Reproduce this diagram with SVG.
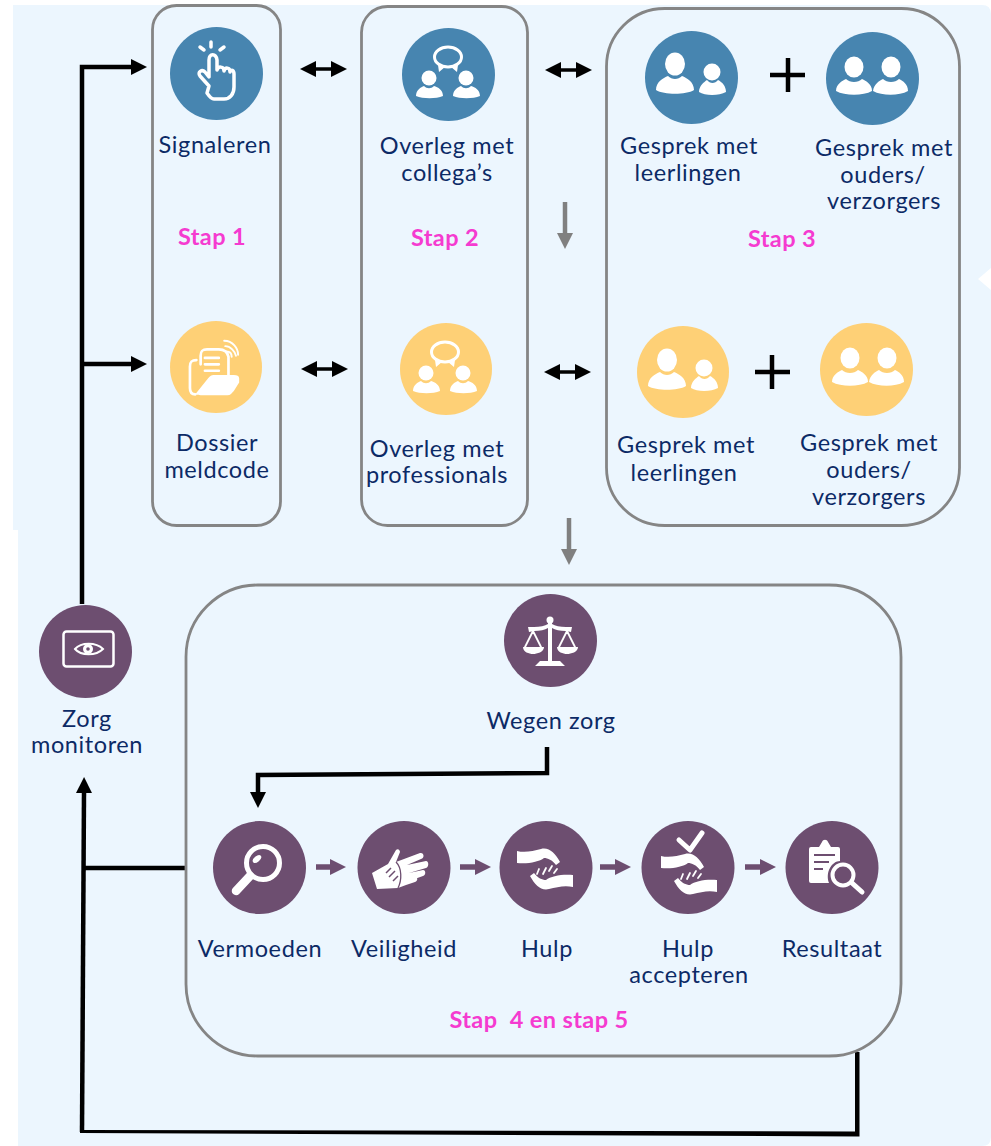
<svg xmlns="http://www.w3.org/2000/svg" width="991" height="1146" viewBox="0 0 991 1146">
<style>
text{font-family:"Lato","Liberation Sans",sans-serif;font-size:23.5px;letter-spacing:.6px;fill:#0c2a66;text-anchor:middle;white-space:pre}
.stap{font-weight:700;font-size:23.5px;letter-spacing:.4px;fill:#f53bd0}
.box{fill:none;stroke:#858585;stroke-width:2.8}
.blue{fill:#4785b0}.yel{fill:#fed076}.pur{fill:#6d4e70}
.w{fill:#fff}.ws{fill:none;stroke:#fff;stroke-linecap:round;stroke-linejoin:round}
.k{fill:none;stroke:#000;stroke-width:4.5}
.k2{fill:none;stroke:#000;stroke-width:3.500}
.g{fill:none;stroke:#808080;stroke-width:4.500}
.p{fill:none;stroke:#6d4e70;stroke-width:5.500}
</style>
<defs>
<marker id="ak" markerUnits="userSpaceOnUse" markerWidth="16" markerHeight="16" refX="1" refY="8" orient="auto-start-reverse"><path d="M0 0L16 8L0 16Z"/></marker>
<marker id="ag" markerUnits="userSpaceOnUse" markerWidth="16" markerHeight="16" refX="1" refY="8" orient="auto"><path d="M0 0L16 8L0 16Z" fill="#808080"/></marker>
<marker id="ap" markerUnits="userSpaceOnUse" markerWidth="16" markerHeight="16" refX="1" refY="8" orient="auto"><path d="M0 0L16 8L0 16Z" fill="#6d4e70"/></marker>
<g id="persons2"><ellipse cx="-17" cy="-11" rx="9.500" ry="10.500" class="w"/><path d="M-35 13C-35 6-29 3-25 1C-21 5-13 5-9 1C-5 3 1 6 1 13C-8 18-26 18-35 13Z" class="w"/><ellipse cx="20" cy="-11" rx="9.500" ry="10.500" class="w"/><path d="M2 13C3 6 8 3 12 1C16 5 24 5 28 1C32 3 37 6 37 13C28 18 11 18 2 13Z" class="w"/></g>
<g id="persons1"><ellipse cx="-19" cy="-10" rx="10" ry="11.500" class="w"/><path d="M-38 16C-38 8-31 4-26 2C-22 6-16 6-12 2C-7 4 0 8 0 16C-8 21-30 21-38 16Z" class="w"/><circle cx="18" cy="-2" r="8.500" class="w"/><path d="M5 18C5 12 10 8 13 6C16 10 21 10 24 6C28 8 32 12 32 18C25 22 11 22 5 18Z" class="w"/></g>
<g id="talk"><ellipse cx="0" cy="-16" rx="13.500" ry="10" class="ws" stroke-width="3"/><path d="M-10-8L-9-1L-3-6ZM10-8L9-1L3-6Z" class="w"/><circle cx="-19" cy="5" r="7.500" class="w"/><path d="M-32 23C-32 17-27 14-24 13C-21 16-17 16-14 13C-10 14-5 17-5 23C-12 26-25 26-32 23Z" class="w"/><circle cx="18" cy="5" r="7.500" class="w"/><path d="M5 23C5 17 10 14 13 13C16 16 20 16 23 13C27 14 32 17 32 23C25 26 12 26 5 23Z" class="w"/></g>
<g id="hand"><path d="M-28-18C-20-16-12-18-4-20C4-22 10-16 15-7L11-4C7-9 3-11-1-11C-6-7-17-5-28-6Z" class="w"/></g>
<g id="hands"><use href="#hand"/><use href="#hand" transform="rotate(180)"/><path d="M7-3L4 2M1-1L-2 5M-6 0L-8 5M12 0L9 4" class="ws" stroke-width="1.800" stroke-linecap="butt"/></g>
</defs>
<path id="background" d="M13 5H982Q991 5 991 14V268L978 279L991 290V1137Q991 1146 982 1146H18V530H13Z" fill="#ecf6fe"/>
<g id="connectors">
<path class="k" d="M82 604V67H132" marker-end="url(#ak)"/>
<path class="k" d="M82 364H132" marker-end="url(#ak)"/>
<path class="k2" d="M315 69H332" marker-start="url(#ak)" marker-end="url(#ak)"/>
<path class="k2" d="M560 70H577" marker-start="url(#ak)" marker-end="url(#ak)"/>
<path class="k2" d="M316 369H333" marker-start="url(#ak)" marker-end="url(#ak)"/>
<path class="k2" d="M559 372H576" marker-start="url(#ak)" marker-end="url(#ak)"/>
<path class="g" d="M565 202V234" marker-end="url(#ag)"/>
<path class="g" d="M569 518V550" marker-end="url(#ag)"/>
<path class="k" d="M547 747V773L258 775V793" marker-end="url(#ak)"/>
<path class="k" d="M185 868H84"/>
<path d="M855 1052H859.500V1136.500L80 1133V1130L855 1131.500Z" fill="#000"/>
<path class="k" d="M82 1132L84 792" marker-end="url(#ak)"/>
<path class="p" d="M316 867H331" marker-end="url(#ap)"/>
<path class="p" d="M460 867H476" marker-end="url(#ap)"/>
<path class="p" d="M600 867H616" marker-end="url(#ap)"/>
<path class="p" d="M745 867H761" marker-end="url(#ap)"/>
</g>
<g id="stap1"><rect class="box" x="152.500" y="5.500" width="128" height="520" rx="24"/><text class="stap" x="212" y="245">Stap 1</text></g>
<g id="stap2"><rect class="box" x="361.500" y="6.500" width="166" height="519" rx="26"/><text class="stap" x="445" y="246">Stap 2</text></g>
<g id="stap3"><rect class="box" x="606.500" y="8.500" width="353" height="517" rx="58"/><text class="stap" x="782" y="247">Stap 3</text></g>
<g id="stap45"><rect class="box" x="186" y="585" width="715" height="471" rx="72"/><text class="stap" x="539" y="1028">Stap  4 en stap 5</text></g>

<g id="signaleren"><circle class="blue" cx="216.500" cy="73.500" r="46.500"/>
<path class="ws" stroke-width="3.500" d="M209 86L200 76C197 72 202 69 205 72L209 77V60C209 53 216 53 217 60V70C218 66 224 66 224 71C225 67 230 67 230 72C231 69 234 70 234 74V87C234 94 230 99 224 99H214C211 99 209 96 207 93Z"/>
<path class="ws" stroke-width="3.500" d="M211 42V47M200 47L204 50M224 47L220 50"/>
<text x="215" y="153">Signaleren</text></g>

<g id="overleg-collegas"><circle class="blue" cx="448.500" cy="74.500" r="46.500"/><use href="#talk" x="448" y="73"/>
<text x="447" y="154">Overleg met</text><text x="447" y="181">collega’s</text></g>

<g id="gesprek-leerlingen-1"><circle class="blue" cx="691.500" cy="77.500" r="46.500"/><use href="#persons1" x="694" y="74"/>
<text x="689" y="154">Gesprek met</text><text x="688" y="181">leerlingen</text></g>

<path id="plus-1" d="M788 58V92M770 75H805" stroke="#000" stroke-width="4.500" fill="none"/>

<g id="gesprek-ouders-1"><circle class="blue" cx="872.500" cy="78.500" r="46.500"/><use href="#persons2" x="871" y="78"/>
<text x="884" y="156">Gesprek met</text><text x="883" y="183">ouders/</text><text x="884" y="209">verzorgers</text></g>

<g id="dossier"><circle class="yel" cx="216" cy="367" r="46"/>
<g transform="translate(-8,-23) scale(1.07)">
<path class="ws" stroke-width="2.500" d="M191 358C186 358 185 360 185 364V384C185 388 187 390 190 390M195 362V354C195 349 197 348 201 348H212C217 348 220 350 221 355V372"/>
<path class="w" d="M190 390C192 391 195 391 220 391C223 391 224 389 226 387L231 379L231 375C231 373 229 372 226 372H207C205 372 204 373 202 375Z"/>
<path class="ws" stroke-width="2.500" d="M199 356H212M199 362H212M199 368H212"/>
<path class="ws" stroke-width="1.800" d="M219 350C222 350 224 352 224 355M218 345C223 345 227 350 228 354M217 340C225 340 230 347 230 353"/>
</g>
<text x="217" y="451">Dossier</text><text x="217" y="478">meldcode</text></g>

<g id="overleg-professionals"><circle class="yel" cx="446" cy="369" r="46"/><use href="#talk" x="445" y="368"/>
<text x="437" y="457">Overleg met</text><text x="437" y="483">professionals</text></g>

<g id="gesprek-leerlingen-2"><circle class="yel" cx="683" cy="372" r="46"/><use href="#persons1" x="686" y="370"/>
<text x="686" y="453">Gesprek met</text><text x="684" y="481">leerlingen</text></g>

<path id="plus-2" d="M772 355V389M755 372H790" stroke="#000" stroke-width="4.500" fill="none"/>

<g id="gesprek-ouders-2"><circle class="yel" cx="866.500" cy="369.500" r="46.500"/><use href="#persons2" x="867" y="369"/>
<text x="869" y="451">Gesprek met</text><text x="869" y="478">ouders/</text><text x="869" y="505">verzorgers</text></g>

<g id="zorg-monitoren"><circle class="pur" cx="85.500" cy="651.500" r="46.500"/>
<rect x="63.500" y="631.500" width="50" height="35" rx="3" fill="none" stroke="#fff" stroke-width="2.500"/>
<path d="M75 649C81 642 96 642 103 649C96 656 81 656 75 649Z" fill="none" stroke="#fff" stroke-width="2"/><circle cx="88" cy="649" r="5" class="w"/><circle cx="88" cy="649" r="1.800" class="pur"/>
<text x="87" y="727">Zorg</text><text x="87" y="753">monitoren</text></g>

<g id="wegen-zorg"><circle class="pur" cx="550.500" cy="640.500" r="46.500"/>
<g fill="#fff"><circle cx="550" cy="620" r="3.500"/><path d="M548 622H552V661H560L565 666H535L540 661H548Z"/><path d="M528 627L534 627C540 627 545 626 548 624V628C545 630 540 631 534 631L529 632ZM572 627L566 627C560 627 555 626 552 624V628C555 630 560 631 566 631L571 632Z"/>
<path d="M523 647H544C544 652 537 654 533 654C529 654 523 652 523 647ZM557 647H578C578 652 571 654 567 654C563 654 557 652 557 647Z"/></g>
<path class="ws" stroke-width="1.800" d="M533 631L525 647M533 631L541 647M567 631L559 647M567 631L575 647"/>
<text x="551" y="729">Wegen zorg</text></g>

<g id="vermoeden"><circle class="pur" cx="259.500" cy="867.500" r="46.500"/>
<circle cx="263" cy="863" r="16.500" fill="none" stroke="#fff" stroke-width="5"/><path d="M250 876L236 891" stroke="#fff" stroke-width="8.500" stroke-linecap="round"/><ellipse cx="257" cy="859" rx="5" ry="2.800" transform="rotate(-40 257 859)" class="w"/>
<text x="260" y="957">Vermoeden</text></g>

<g id="veiligheid"><circle class="pur" cx="404" cy="867.500" r="46.500"/>
<path class="w" d="M372 873L388 864L396 850C398 848 400 850 400 852L396 862L420 853C424 852 425 858 421 859L407 865L426 861C429 861 429 867 426 868L409 873L423 870C426 870 426 875 423 876L409 881L415 877C418 877 418 881 415 882L406 885L398 888L377 889Z"/>
<path d="M386 873L391 868M389 877L395 871M393 881L398 876" stroke="#6d4e70" stroke-width="1.500" fill="none"/>
<path d="M396 862C402 868 402 880 398 888" stroke="#6d4e70" stroke-width="1.300" fill="none"/>
<text x="404" y="957">Veiligheid</text></g>

<g id="hulp"><circle class="pur" cx="546" cy="867.500" r="46.500"/><use href="#hands" x="545" y="869"/>
<text x="547" y="957">Hulp</text></g>

<g id="hulp-accepteren"><circle class="pur" cx="688" cy="867.500" r="46.500"/><use href="#hands" x="689" y="874"/>
<path class="ws" stroke-width="5" stroke-linecap="butt" d="M679 840L690 850L702 833"/>
<text x="688" y="957">Hulp</text><text x="689" y="983">accepteren</text></g>

<g id="resultaat"><circle class="pur" cx="832" cy="867.500" r="46.500"/>
<path class="w" d="M811 847H819L822 842C823 839 827 839 828 842L831 847H838Q840 847 840 849V861C832 861 825 872 829 883H811Q809 883 809 881V849Q809 847 811 847Z"/>
<path d="M814 855H835M814 862H829M814 869H823" stroke="#6d4e70" stroke-width="1.800" fill="none"/>
<circle cx="843" cy="875" r="10.500" fill="none" stroke="#fff" stroke-width="4"/><path d="M852 883L862 892" stroke="#fff" stroke-width="5" stroke-linecap="round"/>
<text x="832" y="957">Resultaat</text></g>
</svg>
